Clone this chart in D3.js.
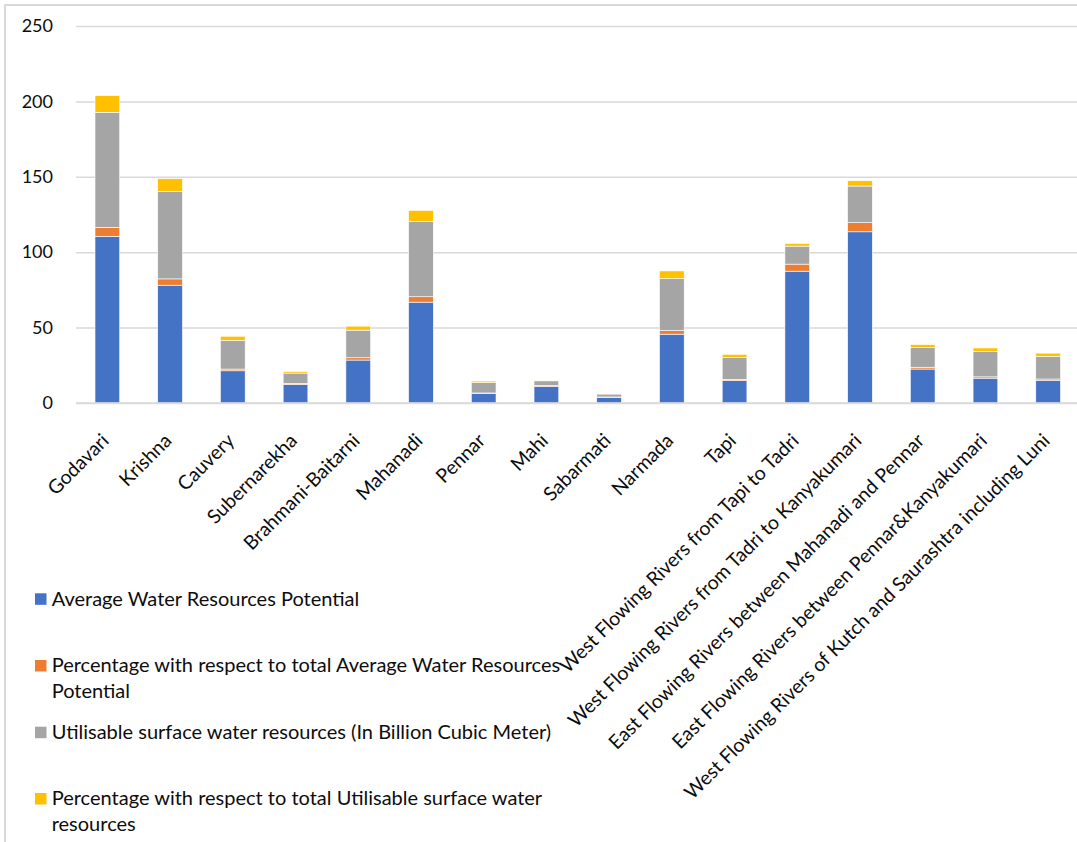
<!DOCTYPE html>
<html>
<head>
<meta charset="utf-8">
<script src="https://cdn.jsdelivr.net/npm/d3@7/dist/d3.min.js"></script>
<style>
  html, body { margin: 0; padding: 0; background: #fff; }
  svg { display: block; font-family: Lato, "Open Sans", sans-serif; }
</style>
</head>
<body>
<svg id="chart" width="1077" height="842"></svg>
<script>
// River basins of India
const categories = [
  "Godavari", "Krishna", "Cauvery", "Subernarekha", "Brahmani-Baitarni",
  "Mahanadi", "Pennar", "Mahi", "Sabarmati", "Narmada", "Tapi",
  "West Flowing Rivers from Tapi to Tadri",
  "West Flowing Rivers from Tadri to Kanyakumari",
  "East Flowing Rivers between Mahanadi and Pennar",
  "East Flowing Rivers between Pennar&Kanyakumari",
  "West Flowing Rivers of Kutch and Saurashtra including Luni"
];

// Average water resources potential (BCM)
const avgPotential = [110.54, 78.12, 21.36, 12.37, 28.48, 66.88, 6.32, 11.02, 3.81, 45.64, 14.88, 87.41, 113.53, 22.52, 16.46, 15.10];
// Share of the total average water resources potential (%)
const pctAvgPotential = [5.91, 4.18, 1.14, 0.66, 1.52, 3.58, 0.34, 0.59, 0.20, 2.44, 0.80, 4.68, 6.07, 1.20, 0.88, 0.81];
// Utilisable surface water resources (BCM)
const utilisable = [76.3, 58.0, 19.0, 6.81, 18.3, 49.99, 6.86, 3.10, 1.93, 34.50, 14.50, 11.94, 24.27, 13.11, 16.73, 14.98];
// Share of the total utilisable surface water resources (%)
const pctUtilisable = [11.06, 8.41, 2.75, 0.99, 2.65, 7.25, 0.99, 0.45, 0.28, 5.00, 2.10, 1.73, 3.52, 1.90, 2.42, 2.17];

const yTicks = [0, 50, 100, 150, 200, 250];

const seriesKeys = ["avg", "pctAvg", "util", "pctUtil"];
const colors = ["#4472C4", "#ED7D31", "#A5A5A5", "#FFC000"];

// Legend entries broken into the lines they occupy
const legendLines = [
  ["Average Water Resources Potential"],
  ["Percentage with respect to total Average Water Resources", "Potential"],
  ["Utilisable surface water resources (In Billion Cubic Meter)"],
  ["Percentage with respect to total Utilisable surface water", "resources"]
];

const rows = categories.map((c, i) => ({
  name: c,
  avg: avgPotential[i],
  pctAvg: pctAvgPotential[i],
  util: utilisable[i],
  pctUtil: pctUtilisable[i]
}));

const svg = d3.select("#chart");
const W = 1077, H = 842;
const textColor = "#0d0d0d";

const plotLeft = 76, plotRight = 1079.5, plotTop = 26, plotBottom = 403;

const x = d3.scaleBand()
  .domain(categories)
  .range([plotLeft, plotRight])
  .paddingInner(0.606)
  .paddingOuter(0.303);

const y = d3.scaleLinear()
  .domain([0, 250])
  .range([plotBottom, plotTop]);

// Chart frame (left and top edges)
svg.append("path")
  .attr("d", `M5,${H} L5,5 L${W},5`)
  .attr("fill", "none")
  .attr("stroke", "#d9d9d9")
  .attr("stroke-width", 2);

// Horizontal gridlines
const grid = svg.append("g")
  .attr("transform", `translate(${plotLeft},0)`)
  .call(d3.axisRight(y).tickValues(yTicks).tickSize(plotRight - plotLeft).tickFormat(""));
grid.select(".domain").remove();
grid.selectAll("line").attr("stroke", "#d9d9d9").attr("stroke-width", 1.5);

// Y-axis labels
const yAxis = svg.append("g")
  .attr("transform", `translate(${plotLeft},0)`)
  .call(d3.axisLeft(y).tickValues(yTicks).tickSize(0).tickPadding(23));
yAxis.select(".domain").remove();
yAxis.selectAll("text")
  .attr("fill", textColor)
  .style("font-family", "Lato, sans-serif")
  .style("font-size", "18px");

// Stacked bars
const stack = d3.stack().keys(seriesKeys);
const stacked = stack(rows);

svg.append("g")
  .selectAll("g")
  .data(stacked)
  .join("g")
  .attr("fill", (d, i) => colors[i])
  .selectAll("rect")
  .data(d => d)
  .join("rect")
  .attr("x", d => x(d.data.name))
  .attr("width", x.bandwidth())
  .attr("y", d => y(d[1]))
  .attr("height", d => y(d[0]) - y(d[1]))
  .attr("stroke", "#fff")
  .attr("stroke-width", 0.6);

// Baseline
svg.append("line")
  .attr("x1", plotLeft).attr("x2", plotRight)
  .attr("y1", y(0)).attr("y2", y(0))
  .attr("stroke", "#d9d9d9")
  .attr("stroke-width", 1.5);

// Rotated category labels
const xAxis = svg.append("g")
  .attr("transform", `translate(0,${plotBottom})`)
  .call(d3.axisBottom(x).tickSize(0).tickFormat(d => d));
xAxis.select(".domain").remove();
xAxis.selectAll(".tick text")
  .attr("fill", textColor)
  .style("font-family", "Lato, sans-serif")
  .style("font-size", "19.5px")
  .attr("text-anchor", "end")
  .attr("y", 0)
  .attr("dy", "0.35em")
  .attr("transform", "translate(-2,34) rotate(-45)");

// Legend
const legendTops = [593.3, 660, 726.7, 793];
const legend = svg.append("g");
legendLines.forEach((lines, i) => {
  legend.append("rect")
    .attr("x", 35)
    .attr("y", legendTops[i])
    .attr("width", 11.5)
    .attr("height", 11.5)
    .attr("fill", colors[i]);
  const t = legend.append("text")
    .attr("x", 51.7)
    .attr("y", legendTops[i] + 12.3)
    .attr("fill", textColor)
    .style("font-size", "20px");
  lines.forEach((ln, j) => {
    t.append("tspan")
      .attr("x", 51.7)
      .attr("dy", j === 0 ? 0 : 26)
      .text(ln);
  });
});
</script>
</body>
</html>
